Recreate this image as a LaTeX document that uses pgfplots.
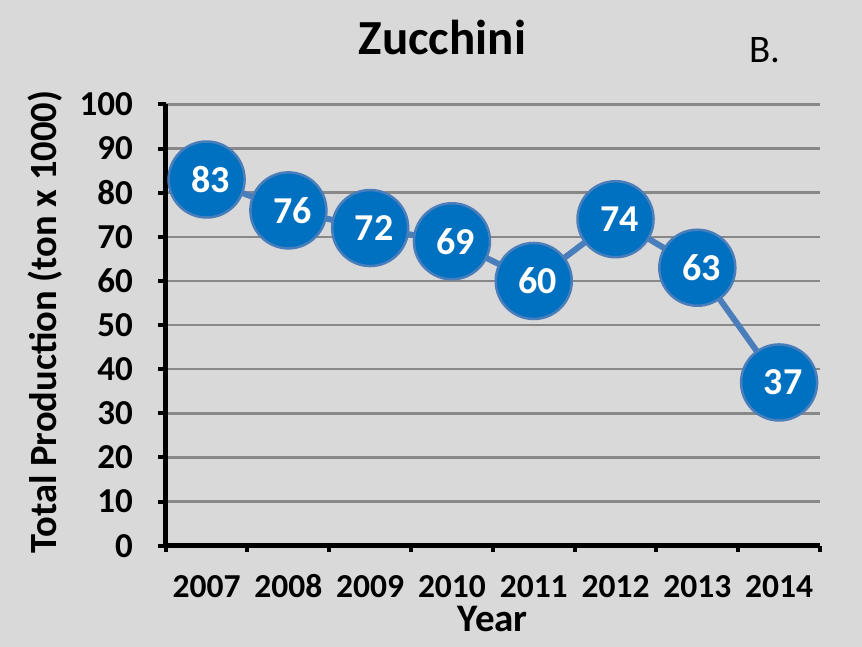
\documentclass[border=0pt]{standalone}
\usepackage{fontspec}
\setmainfont{Carlito}
\usepackage{pgfplots}
\pgfplotsset{compat=1.18}
\definecolor{bgc}{HTML}{D9D9D9}
\definecolor{gridc}{HTML}{888888}
\definecolor{linec}{HTML}{4A7EBB}
\definecolor{markc}{HTML}{0070C0}
\begin{document}
\begin{tikzpicture}
\fill[bgc] (0pt,0pt) rectangle (862pt,647pt);
\useasboundingbox (0pt,0pt) rectangle (862pt,647pt);
\begin{axis}[
  at={(165.7pt,101.3pt)}, anchor=south west,
  scale only axis, width=654.3pt, height=441.2pt,
  clip=false,
  xmin=-0.5, xmax=7.5, ymin=0, ymax=100,
  xtick={0,...,7},
  xticklabels={2007,2008,2009,2010,2011,2012,2013,2014},
  minor xtick={-0.5,0.5,...,7.5},
  ytick={0,10,...,100},
  axis lines*=left,
  axis line style={-, black, line width=4.5pt},
  tick align=outside,
  major tick length=8pt,
  minor tick length=6pt,
  major x tick style={draw=none},
  minor x tick style={black, line width=4pt},
  ytick style={black, line width=4pt},
  ymajorgrids,
  grid style={gridc, line width=2.5pt},
  /pgf/number format/assume math mode=true,
  xticklabel style={font=\fontsize{33.5}{40}\selectfont\bfseries, anchor=base, inner sep=0pt, yshift=-44pt},
  yticklabel style={font=\fontsize{35}{40}\selectfont\bfseries, anchor=east, inner sep=0pt, xshift=-24.7pt},
  every axis y label/.style={at={(axis description cs:-0.1845,0.507)}, rotate=90, anchor=center, font=\fontsize{38.5}{44}\selectfont\bfseries},
  every axis x label/.style={at={(axis description cs:0.5,-0.1956)}, anchor=base, font=\fontsize{39}{44}\selectfont\bfseries},
  ylabel={Total Production (ton x 1000)},
  xlabel={Year},
  title={Zucchini},
  every axis title/.style={at={(axis description cs:0.423,1.1122)}, anchor=base, font=\fontsize{49}{55}\selectfont\bfseries},
  nodes near coords={\fontsize{38}{42}\selectfont\bfseries\pgfmathprintnumber{\pgfplotspointmeta}},
  every node near coord/.append style={anchor=center, xshift=4pt, text=white},
  after end axis/.code={\node[anchor=base west, inner sep=0pt, font=\fontsize{39}{44}\selectfont] at (axis description cs:0.8915,1.0963) {B.};},
]
\addplot[linec, line width=6pt, mark=*, mark size=38pt,
  mark options={fill=markc, draw=linec, line width=2.5pt}]
  coordinates {(0,83) (1,76) (2,72) (3,69) (4,60) (5,74) (6,63) (7,37)};
\end{axis}
\end{tikzpicture}
\end{document}
